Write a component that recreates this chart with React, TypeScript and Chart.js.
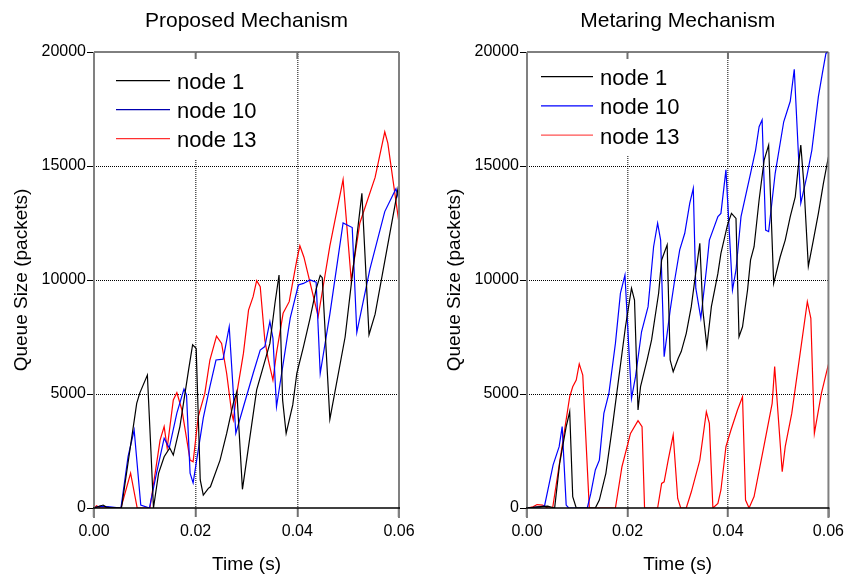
import { useEffect, useRef } from "react";
import { Chart, registerables } from "chart.js";

Chart.register(...registerables);

// ---------- tick labels / texts ----------
const xTickValues = [0, 0.02, 0.04, 0.06];
const yTickValues = [0, 5000, 10000, 15000, 20000];
const seriesNames = ["node 1", "node 10", "node 13"];
const chartTitles = ["Proposed Mechanism", "Metaring Mechanism"];
const xAxisTitle = "Time (s)";
const yAxisTitle = "Queue Size (packets)";

// ---------- Proposed Mechanism ----------
const propNode1T = [0, 0.0018, 0.0024, 0.0031, 0.0054, 0.0084, 0.009, 0.0105, 0.0112, 0.0117, 0.0127, 0.0138, 0.0149, 0.0156, 0.0169, 0.0186, 0.0194, 0.0201, 0.0209, 0.0215, 0.0225, 0.0229, 0.0248, 0.0261, 0.0274, 0.0281, 0.0292, 0.032, 0.0346, 0.0356, 0.0364, 0.0371, 0.0378, 0.0391, 0.0399, 0.0412, 0.0425, 0.0437, 0.0445, 0.0449, 0.0464, 0.0494, 0.0527, 0.0541, 0.0553, 0.0598, 0.06];
const propNode1Q = [0, 130, 40, 20, 0, 4590, 5040, 5830, 2500, 0, 1520, 2250, 2630, 2320, 3570, 6050, 7160, 7000, 1230, 570, 860, 930, 2100, 3270, 4590, 5100, 820, 5180, 7220, 8980, 10220, 4740, 3270, 4520, 5910, 7070, 8320, 9600, 10200, 10100, 3900, 7500, 13800, 7600, 8500, 14000, 13800];

const propNode10T = [0, 0.0012, 0.0031, 0.0053, 0.0067, 0.0079, 0.0092, 0.0109, 0.0123, 0.0138, 0.0148, 0.0163, 0.0177, 0.0182, 0.0189, 0.0195, 0.0202, 0.0215, 0.0228, 0.024, 0.0254, 0.0266, 0.0279, 0.0294, 0.0313, 0.0327, 0.0336, 0.0346, 0.0352, 0.0359, 0.0386, 0.0402, 0.0412, 0.0425, 0.0437, 0.0445, 0.0464, 0.049, 0.0508, 0.0517, 0.0543, 0.0572, 0.0594, 0.06];
const propNode10Q = [0, 80, 50, 0, 2250, 3420, 130, 0, 1530, 3060, 2630, 4160, 5220, 4960, 1530, 1100, 2100, 3950, 5320, 6490, 6530, 7950, 3280, 4440, 5900, 6930, 7080, 8170, 7450, 4440, 8330, 9780, 9850, 10000, 9900, 5900, 8500, 12500, 12300, 7700, 10500, 13000, 14000, 13500];

const propNode13T = [0, 0.0005, 0.0012, 0.0053, 0.0072, 0.0085, 0.011, 0.013, 0.0138, 0.0144, 0.0156, 0.0163, 0.0173, 0.0189, 0.0195, 0.0205, 0.0218, 0.0228, 0.0241, 0.0251, 0.0261, 0.0271, 0.0274, 0.0281, 0.0294, 0.0304, 0.0313, 0.032, 0.0327, 0.0336, 0.0343, 0.0352, 0.0359, 0.0372, 0.0384, 0.0399, 0.0405, 0.0413, 0.0441, 0.0464, 0.049, 0.0506, 0.0523, 0.0553, 0.0572, 0.0578, 0.06];
const propNode13Q = [0, 100, 0, 0, 1530, 0, 0, 2980, 3570, 2630, 4740, 5060, 4300, 2100, 2030, 4000, 5030, 6490, 7540, 7220, 5900, 4150, 3860, 5030, 6790, 8680, 9270, 9970, 9710, 7370, 6490, 5610, 6790, 8540, 9050, 10880, 11500, 11000, 8400, 11500, 14400, 10000, 12500, 14500, 16500, 16000, 12500];

// ---------- Metaring Mechanism ----------
const metaNode1T = [0, 0.002, 0.0041, 0.0055, 0.0065, 0.0078, 0.0085, 0.0091, 0.0098, 0.0136, 0.0144, 0.0157, 0.017, 0.0183, 0.0196, 0.0208, 0.0214, 0.0221, 0.0226, 0.0239, 0.0248, 0.0262, 0.0268, 0.0279, 0.0285, 0.0291, 0.0301, 0.0307, 0.0317, 0.0327, 0.0334, 0.0344, 0.035, 0.0358, 0.0367, 0.038, 0.0386, 0.0399, 0.0407, 0.0416, 0.0422, 0.0429, 0.0439, 0.0445, 0.0452, 0.0462, 0.0472, 0.0481, 0.0491, 0.0504, 0.0514, 0.0524, 0.0534, 0.054, 0.0545, 0.0551, 0.056, 0.057, 0.058, 0.059, 0.06];
const metaNode1Q = [0, 50, 80, 0, 1960, 3570, 4220, 500, 0, 0, 350, 1520, 3570, 5760, 7950, 9640, 9120, 4300, 5320, 6490, 7370, 9420, 10880, 11540, 6490, 5980, 6570, 6860, 7660, 8830, 10000, 11610, 8680, 7080, 8830, 10290, 11170, 12410, 12920, 12700, 7510, 7950, 9560, 10880, 11460, 13510, 15260, 15920, 9850, 11020, 11750, 12780, 13650, 14970, 15920, 14240, 10600, 11750, 12920, 14240, 15400];

const metaNode10T = [0, 0.0026, 0.0035, 0.0052, 0.0064, 0.007, 0.0078, 0.0083, 0.012, 0.0127, 0.0136, 0.0144, 0.0153, 0.0163, 0.0176, 0.0186, 0.0195, 0.0208, 0.0216, 0.0228, 0.0241, 0.0252, 0.026, 0.0266, 0.0273, 0.0285, 0.0294, 0.0304, 0.0314, 0.0324, 0.0331, 0.0336, 0.0346, 0.0357, 0.0363, 0.038, 0.0386, 0.0396, 0.0409, 0.0416, 0.0426, 0.0445, 0.0455, 0.0462, 0.0468, 0.0475, 0.0481, 0.0494, 0.0511, 0.0524, 0.0532, 0.0545, 0.0557, 0.0567, 0.058, 0.0588, 0.0595, 0.06];
const metaNode10Q = [0, 50, 100, 1890, 2690, 3570, 130, 0, 0, 640, 1670, 2100, 4150, 5030, 7220, 9420, 10220, 4810, 5760, 7730, 8830, 11460, 12490, 11750, 6640, 8680, 10000, 11320, 12050, 13370, 14020, 9640, 8320, 10440, 11750, 12780, 12920, 14830, 9560, 10440, 12780, 14680, 15700, 16720, 17020, 12190, 12120, 14680, 16940, 17840, 19240, 13370, 14550, 15700, 18040, 19070, 19940, 20000];

const metaNode13T = [0, 0.0012, 0.002, 0.0031, 0.0041, 0.0051, 0.0085, 0.0091, 0.0098, 0.0104, 0.0111, 0.0124, 0.0176, 0.0189, 0.0206, 0.0221, 0.0229, 0.0234, 0.026, 0.0268, 0.0273, 0.0281, 0.0291, 0.03, 0.0306, 0.0317, 0.0327, 0.0344, 0.0357, 0.0363, 0.037, 0.038, 0.0386, 0.0396, 0.0406, 0.0419, 0.0429, 0.0435, 0.0442, 0.0452, 0.0472, 0.0488, 0.0493, 0.0508, 0.0514, 0.0527, 0.054, 0.0558, 0.0565, 0.0572, 0.0586, 0.06];
const metaNode13Q = [0, 50, 150, 130, 0, 0, 4880, 5320, 5610, 6320, 5830, 0, 0, 1810, 3270, 3830, 3570, 0, 0, 1080, 1150, 2100, 3200, 420, 0, 0, 700, 2100, 4220, 3710, 0, 200, 790, 2690, 3420, 4300, 4880, 350, 0, 500, 2760, 4590, 6200, 1590, 2690, 4150, 6200, 9050, 8320, 3270, 5030, 6300];

const seriesColors = ["#000000", "#0000ff", "#ff0000"];
const FONT = "'Liberation Sans', Arial, Helvetica, sans-serif";

function pts(t: number[], q: number[]) {
  return t.map((x, i) => ({ x, y: q[i] }));
}

const decorPlugin = {
  id: "decor",
  afterDatasetsDraw(chart: any, _args: any, opts: any) {
    const { ctx, chartArea: a, scales } = chart;
    ctx.save();
    ctx.setLineDash([]);
    // legend box
    const lg = opts.legend;
    ctx.fillStyle = "#ffffff";
    ctx.fillRect(a.left + 1, a.top + 1, lg.boxW, lg.boxH);
    ctx.font = `22px ${FONT}`;
    ctx.textBaseline = "alphabetic";
    ctx.textAlign = "left";
    chart.data.datasets.forEach((ds: any, i: number) => {
      const ly = a.top + lg.lineY0 + i * lg.step;
      ctx.strokeStyle = (lg.colors && lg.colors[i]) || ds.borderColor;
      ctx.lineWidth = 1.2;
      ctx.beginPath();
      ctx.moveTo(a.left + lg.x1, ly);
      ctx.lineTo(a.left + lg.x2, ly);
      ctx.stroke();
      ctx.fillStyle = "#000";
      ctx.fillText(ds.label, a.left + lg.tx, ly + 8.5);
    });
    // frame
    const seg = (x1: number, y1: number, x2: number, y2: number, c: string, w: number) => {
      ctx.strokeStyle = c;
      ctx.lineWidth = w;
      ctx.beginPath();
      ctx.moveTo(x1, y1);
      ctx.lineTo(x2, y2);
      ctx.stroke();
    };
    seg(a.left, a.top, a.right, a.top, "#000", 1);
    seg(a.left, a.top, a.left, a.bottom + 10, "#808080", 2);
    seg(a.right, a.top, a.right, a.bottom + 10, "#808080", 2);
    xTickValues.slice(1, -1).forEach((v) => {
      const x = scales.x.getPixelForValue(v);
      seg(x, a.top, x, a.top + 7, "#707070", 2);
    });
    seg(a.left - 1, a.bottom, a.right + 1, a.bottom, "#000", 1.5);
    // title
    ctx.fillStyle = "#000";
    ctx.font = `21px ${FONT}`;
    ctx.textAlign = "center";
    ctx.textBaseline = "middle";
    ctx.fillText(opts.title, (a.left + a.right) / 2, 21);
    ctx.restore();
  },
};

function makeConfig(
  series: { t: number[]; q: number[] }[],
  title: string,
  geo: { yWidth: number; padRight: number; yTitlePad: number; legend: any }
): any {
  return {
    type: "line",
    data: {
      datasets: series.map((s, i) => ({
        label: seriesNames[i],
        data: pts(s.t, s.q),
        borderColor: seriesColors[i],
        borderWidth: 1.2,
        pointRadius: 0,
        tension: 0,
        fill: false,
      })),
    },
    options: {
      animation: false,
      responsive: false,
      devicePixelRatio: 1,
      layout: { padding: { top: 52, right: geo.padRight, bottom: 0, left: 0 } },
      plugins: {
        legend: { display: false },
        title: { display: false },
        tooltip: { enabled: false },
        decor: { title, legend: geo.legend },
      },
      scales: {
        x: {
          type: "linear",
          min: 0,
          max: 0.06,
          afterBuildTicks: (s: any) => {
            s.ticks = xTickValues.map((v) => ({ value: v }));
          },
          afterFit: (s: any) => {
            s.height = 68;
          },
          ticks: {
            color: "#000",
            font: { family: FONT, size: 16 },
            padding: 5,
            maxRotation: 0,
            callback: (v: any) => Number(v).toFixed(2),
          },
          grid: {
            color: (c: any) =>
              c.tick && (c.tick.value === 0 || c.tick.value === 0.06) ? "rgba(0,0,0,0)" : "#555555",
            lineWidth: 1.5,
            tickLength: 9,
            tickColor: "#707070",
            tickWidth: 2,
          },
          border: { display: false, dash: [1, 1] },
          title: {
            display: true,
            text: xAxisTitle,
            color: "#000",
            font: { family: FONT, size: 19 },
            padding: { top: 0, bottom: 0 },
          },
        },
        y: {
          type: "linear",
          min: 0,
          max: 20000,
          afterBuildTicks: (s: any) => {
            s.ticks = yTickValues.map((v) => ({ value: v }));
          },
          afterFit: (s: any) => {
            s.width = geo.yWidth;
          },
          ticks: {
            color: "#000",
            font: { family: FONT, size: 16 },
            padding: 1,
            callback: (v: any) => String(v),
          },
          grid: {
            color: (c: any) =>
              c.tick && (c.tick.value === 0 || c.tick.value === 20000) ? "rgba(0,0,0,0)" : "#000000",
            lineWidth: 1,
            tickLength: 7,
            tickColor: "#000",
            tickWidth: 1,
          },
          border: { display: false, dash: [1, 1] },
          title: {
            display: true,
            text: yAxisTitle,
            color: "#000",
            font: { family: FONT, size: 19 },
            padding: { top: geo.yTitlePad, bottom: 0 },
          },
        },
      },
    },
    plugins: [decorPlugin],
  };
}

export default function App() {
  const leftRef = useRef<HTMLCanvasElement>(null);
  const rightRef = useRef<HTMLCanvasElement>(null);

  useEffect(() => {
    const left = new Chart(
      leftRef.current as HTMLCanvasElement,
      makeConfig(
        [
          { t: propNode1T, q: propNode1Q },
          { t: propNode10T, q: propNode10Q },
          { t: propNode13T, q: propNode13Q },
        ],
        chartTitles[0],
        {
          yWidth: 94,
          padRight: 25,
          yTitlePad: 10,
          legend: {
            boxW: 186, boxH: 106, x1: 22, x2: 76, tx: 83, lineY0: 28.7, step: 29,
            colors: ["#000000", "#0000b0", "#ff3030"],
          },
        }
      )
    );
    const right = new Chart(
      rightRef.current as HTMLCanvasElement,
      makeConfig(
        [
          { t: metaNode1T, q: metaNode1Q },
          { t: metaNode10T, q: metaNode10Q },
          { t: metaNode13T, q: metaNode13Q },
        ],
        chartTitles[1],
        {
          yWidth: 103,
          padRight: 17,
          yTitlePad: 19,
          legend: {
            boxW: 178, boxH: 102, x1: 14, x2: 66, tx: 73, lineY0: 24.7, step: 29.2,
            colors: ["#000000", "#0000ff", "#ff5050"],
          },
        }
      )
    );
    return () => {
      left.destroy();
      right.destroy();
    };
  }, []);

  return (
    <div style={{ position: "absolute", left: 0, top: 0, width: 849, height: 576, background: "#fff" }}>
      <canvas ref={leftRef} width={424} height={576} style={{ position: "absolute", left: 0, top: 0 }} />
      <canvas ref={rightRef} width={425} height={576} style={{ position: "absolute", left: 424, top: 0 }} />
    </div>
  );
}
